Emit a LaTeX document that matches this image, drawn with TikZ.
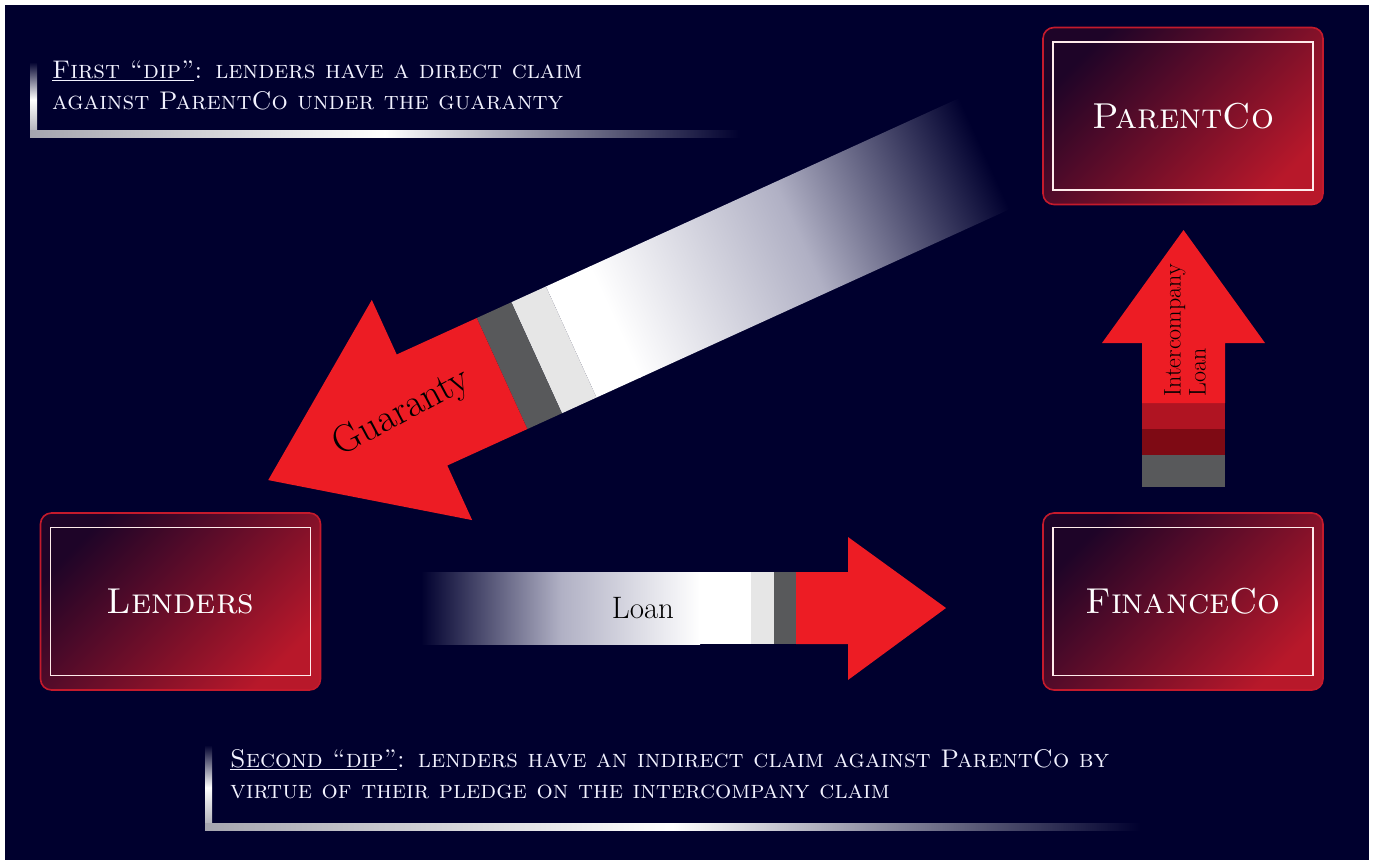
\documentclass[tikz,border=0pt]{standalone}
\usepackage{xcolor}
\definecolor{navy}{RGB}{0,0,46}
\definecolor{arred}{RGB}{237,28,36}
\definecolor{dgray}{RGB}{88,89,91}
\definecolor{lgray}{RGB}{230,230,230}
\definecolor{boxdark}{RGB}{30,4,40}
\definecolor{boxred}{RGB}{184,24,42}
\definecolor{boxedge}{RGB}{196,26,44}
\definecolor{redA}{RGB}{176,20,34}
\definecolor{redB}{RGB}{126,10,20}
\definecolor{barL}{RGB}{165,165,175}
\definecolor{fade}{RGB}{176,176,196}
\begin{document}
\begin{tikzpicture}[x=1pt,y=-1pt,
  outerbox/.style={rounded corners=11pt, draw=boxedge, line width=1.6pt,
    top color=boxdark, bottom color=boxred, shading angle=45,
    minimum width=280pt, minimum height=177pt},
  innerframe/.style={draw=white!92!red, line width=1.5pt,
    minimum width=260pt, minimum height=148pt, text=white,
    font=\fontsize{36}{40}\selectfont\scshape},
  captiontext/.style={text=white!95!blue, font=\fontsize{25.5}{31}\selectfont\scshape,
    align=left, anchor=north west, inner sep=0pt},
  arrowlabel/.style={text=black, inner sep=0pt}
]
% background
\fill[white] (0,0) rectangle (1373,860);
\fill[navy] (5,5) rectangle (1369,860);

% boxes
\node[outerbox] (parent) at (1183,116) {};
\node[innerframe] (parentin) at (parent.center) {ParentCo};
\node[outerbox] (lenders) at (180.5,601.5) {};
\node[innerframe] (lendersin) at (lenders.center) {Lenders};
\node[outerbox] (finance) at (1183,601.5) {};
\node[innerframe] (financein) at (finance.center) {FinanceCo};

% Guaranty arrow
\begin{scope}[transform canvas={shift={(422,410)},rotate=24.5}]
  \shade[left color=white, right color=navy, middle color=fade] (212,-61) rectangle (618,61);
  \fill[white] (164,-61) rectangle (213,61);
  \fill[lgray] (126,-61) rectangle (164,61);
  \fill[dgray] (88,-61) rectangle (126,61);
  \fill[arred] (-169,0) -- (0,-121) -- (0,-61) -- (88,-61) -- (88,61) -- (0,61) -- (0,121) -- cycle;
\end{scope}
\node[arrowlabel, rotate=28, font=\fontsize{39}{42}\selectfont] (guar) at (402,413) {Guaranty};

% Loan arrow
\shade[left color=navy, right color=white, middle color=fade] (421,572) rectangle (700,644);
\fill[white] (699,572) rectangle (751,644);
\fill[lgray] (751,572) rectangle (774,644);
\fill[dgray] (774,572) rectangle (796,644);
\fill[arred] (796,572) -- (848,572) -- (848,537) -- (946,608) -- (848,680) -- (848,644) -- (796,644) -- cycle;
\node[arrowlabel, font=\fontsize{31}{34}\selectfont] (loan) at (643,608) {Loan};

% Intercompany arrow
\fill[dgray] (1142,455) rectangle (1225,487);
\fill[redB] (1142,429) rectangle (1225,455);
\fill[redA] (1142,403) rectangle (1225,429);
\fill[arred] (1142,403) -- (1142,343) -- (1102,343) -- (1183.5,230) -- (1265,343) -- (1225,343) -- (1225,403) -- cycle;
\node[arrowlabel, rotate=90, align=left, font=\fontsize{24}{25}\selectfont] (icl) at (1185,330) {Intercompany\\Loan};

% caption 1
\shade[top color=navy, bottom color=barL, middle color=white] (30,62) rectangle (37,137);
\shade[left color=barL, right color=navy, middle color=white] (30,130) rectangle (740,137);
\node[captiontext] (cap1) at (52,61) {\underline{First “dip”}: lenders have a direct claim\\against ParentCo under the guaranty};

% caption 2
\shade[top color=navy, bottom color=barL, middle color=white] (205,745) rectangle (212,830);
\shade[left color=barL, right color=navy, middle color=white] (205,823) rectangle (1140,830);
\node[captiontext] (cap2) at (230,749) {\underline{Second “dip”}: lenders have an indirect claim against ParentCo by\\virtue of their pledge on the intercompany claim};
\end{tikzpicture}
\end{document}
